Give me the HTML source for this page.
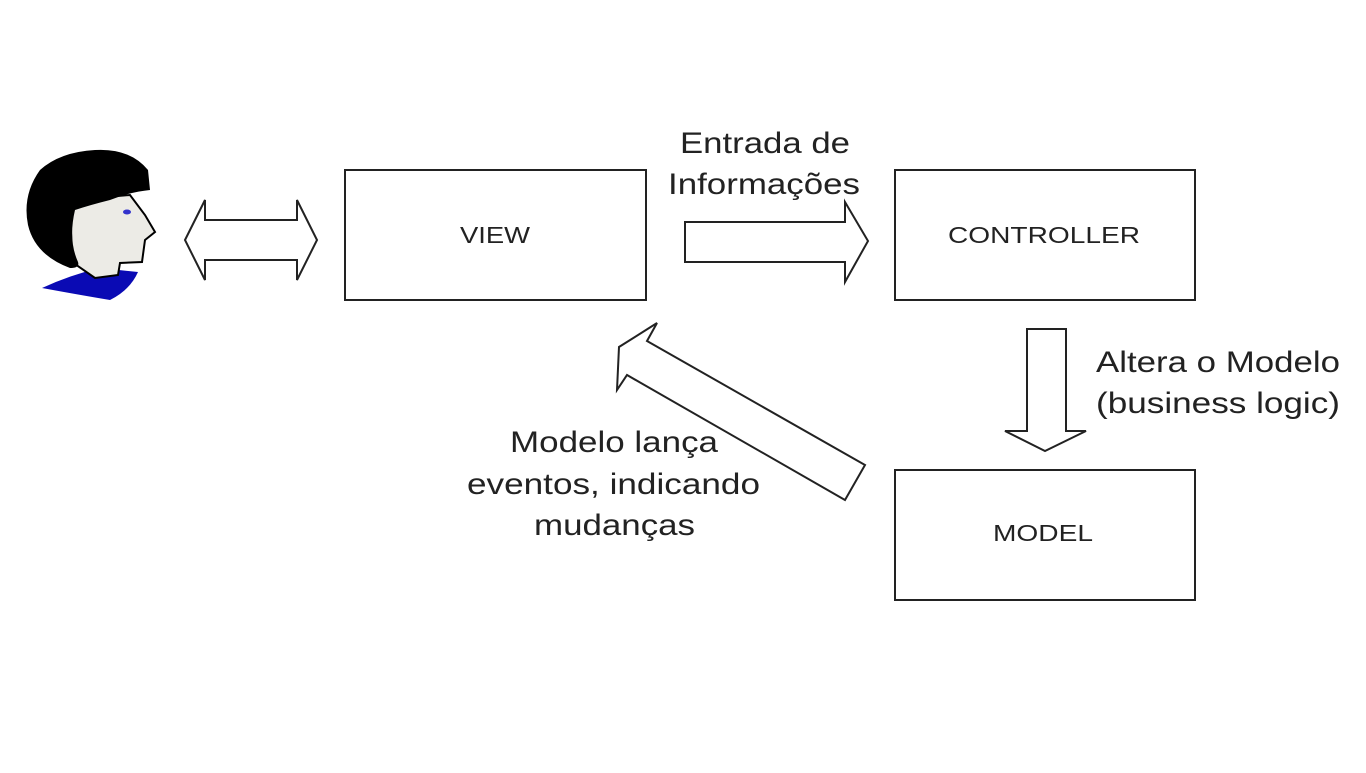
<!DOCTYPE html>
<html><head><style>
body{margin:0;background:#fff;}
svg text{font-family:"Liberation Sans",sans-serif;}
</style></head><body>
<svg width="1366" height="768" viewBox="0 0 1366 768">
<g fill="#fff" stroke="#222" stroke-width="2">
<rect x="345" y="170" width="301" height="130"/>
<rect x="895" y="170" width="300" height="130"/>
<rect x="895" y="470" width="300" height="130"/>
<polygon points="185,240 205,200 205,220 297,220 297,200 317,240 297,280 297,260 205,260 205,280"/>
<polygon points="685,222 845,222 845,202 868,241 845,282 845,262 685,262"/>
<polygon points="1027,329 1066,329 1066,431 1086,431 1045,451 1005,431 1027,431"/>
<polygon points="657,323 647,341 865,465 845,500 627,375 617,390 619,347"/>
</g>
<g fill="#222" lengthAdjust="spacingAndGlyphs">
<text x="460" y="243" font-size="23" textLength="70" lengthAdjust="spacingAndGlyphs">VIEW</text>
<text x="948" y="243" font-size="23" textLength="192" lengthAdjust="spacingAndGlyphs">CONTROLLER</text>
<text x="993" y="541" font-size="23" textLength="100" lengthAdjust="spacingAndGlyphs">MODEL</text>
<text x="680" y="153" font-size="30" textLength="170" lengthAdjust="spacingAndGlyphs">Entrada de</text>
<text x="668" y="194" font-size="30" textLength="192" lengthAdjust="spacingAndGlyphs">Informações</text>
<text x="1096" y="372" font-size="30" textLength="244" lengthAdjust="spacingAndGlyphs">Altera o Modelo</text>
<text x="1096" y="413" font-size="30" textLength="244" lengthAdjust="spacingAndGlyphs">(business logic)</text>
<text x="510" y="452" font-size="30" textLength="208" lengthAdjust="spacingAndGlyphs">Modelo lança</text>
<text x="467" y="494" font-size="30" textLength="293" lengthAdjust="spacingAndGlyphs">eventos, indicando</text>
<text x="534" y="535" font-size="30" textLength="161" lengthAdjust="spacingAndGlyphs">mudanças</text>
</g>
<!-- person -->
<path d="M42,288 Q70,275 100,268 L138,272 Q130,290 110,300 Q80,295 42,288Z" fill="#0a0ab4"/>
<path d="M70,200 L130,195 L145,215 L155,232 L145,240 L142,262 L120,263 L118,275 L95,278 L72,262 Z" fill="#ecebe6" stroke="#000" stroke-width="2"/>
<path d="M95,150 Q130,148 148,170 L150,190 Q130,192 110,200 Q90,205 75,210 Q68,240 78,262 Q80,268 70,268 Q35,255 28,225 Q22,195 40,170 Q60,152 95,150Z" fill="#000"/>
<ellipse cx="127" cy="212" rx="4" ry="2.5" fill="#3333cc"/>
</svg>
</body></html>
